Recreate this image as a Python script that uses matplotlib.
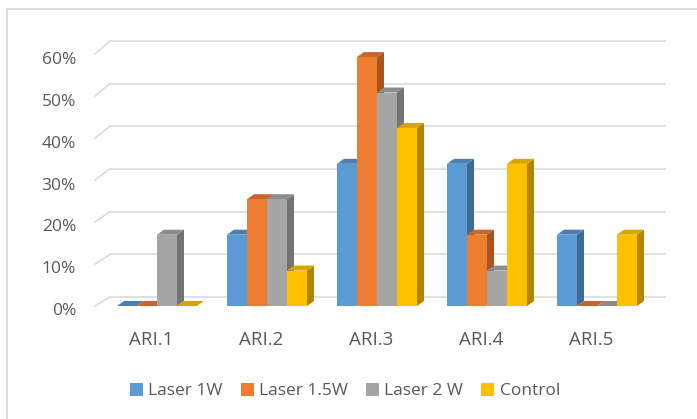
import matplotlib
matplotlib.use("Agg")
import matplotlib.pyplot as plt
from matplotlib.patches import Polygon, Rectangle
import numpy as np

categories = ["ARI.1", "ARI.2", "ARI.3", "ARI.4", "ARI.5"]
series_names = ["Laser 1W", "Laser 1.5W", "Laser 2 W", "Control"]
laser_1w = [0.0, 16.7, 33.3, 33.3, 16.7]
laser_15w = [0.0, 25.0, 58.3, 16.7, 0.0]
laser_2w = [16.7, 25.0, 50.0, 8.3, 0.0]
control = [0.0, 8.3, 41.7, 33.3, 16.7]
y_ticks = [0, 10, 20, 30, 40, 50, 60]
y_tick_labels = ["0%", "10%", "20%", "30%", "40%", "50%", "60%"]

series = [laser_1w, laser_15w, laser_2w, control]
front_cols = ["#5B9BD5", "#ED7D31", "#A5A5A5", "#FFC000"]
top_cols = ["#4A80B5", "#C9652A", "#8C8C8C", "#D9A300"]
side_cols = ["#3E6A94", "#A9541F", "#737373", "#B08600"]

plt.rcParams['font.family'] = ['Open Sans', 'DejaVu Sans']
W, H = 697, 419
fig = plt.figure(figsize=(W / 100, H / 100), dpi=100)
ax = fig.add_axes([0, 0, 1, 1])
ax.set_axis_off()

# pixel geometry mapping -> data
px_per_cat = 110.0
px_per_pct = 4.27
x0_px = 157.0
y0_px = 306.0
ax.set_xlim(-x0_px / px_per_cat, (W - x0_px) / px_per_cat)
ax.set_ylim((y0_px - H) / px_per_pct, y0_px / px_per_pct)

def dx(p):
    return p / px_per_cat

def dy(p):
    return p / px_per_pct

# border
fig.patches.append(Rectangle((6.5 / W, -0.1), 2.0, 1 - 9.5 / H + 0.1,
                             transform=fig.transFigure, fill=False,
                             edgecolor="#D9D9D9", lw=1.3))

grid_c = "#D9D9D9"
wall_dx, wall_dy = dx(15), dy(9)
gx0, gx1 = dx(110 - x0_px), dx(665 - x0_px)
front_scale = 4.2 / px_per_pct   # front-edge (perspective) scale relative to wall
label_scale = 4.183 / px_per_pct
for v, lab in zip(y_ticks, y_tick_labels):
    ax.plot([gx0 - wall_dx, gx0], [v * front_scale, v + wall_dy], color=grid_c, lw=1.1, zorder=1)
    ax.plot([gx0, gx1], [v + wall_dy, v + wall_dy], color=grid_c, lw=1.1, zorder=1)
    ax.text(dx(76 - x0_px), v * label_scale - dy(5), lab, ha="right", va="center",
            fontsize=12.5, color="#595959")

bw = dx(20)
ddx, ddy = dx(7), dy(5)
n = len(series)
z = 2
for i, cat in enumerate(categories):
    for j in range(n):
        v = series[j][i]
        xl = i + (j - n / 2) * bw
        xr = xl + bw
        side = Polygon([(xr, 0), (xr + ddx, ddy), (xr + ddx, v + ddy), (xr, v)],
                       closed=True, facecolor=side_cols[j], edgecolor="none", zorder=z)
        top = Polygon([(xl, v), (xl + ddx, v + ddy), (xr + ddx, v + ddy), (xr, v)],
                      closed=True, facecolor=top_cols[j], edgecolor="none", zorder=z + 0.1)
        front = Rectangle((xl, 0), bw, v, facecolor=front_cols[j], edgecolor="none",
                          zorder=z + 0.2)
        ax.add_patch(side)
        ax.add_patch(top)
        ax.add_patch(front)
        z += 1
    ax.text(i - dx(6), dy(y0_px - 340), cat, ha="center", va="center",
            fontsize=13.5, color="#595959")

handles = [Rectangle((0, 0), 1, 1, facecolor=c, edgecolor="none") for c in front_cols]
leg = fig.legend(handles, series_names, loc="center", ncol=4,
                 bbox_to_anchor=(345 / W, 1 - 391 / H), frameon=False,
                 fontsize=12.5, handlelength=0.75, handleheight=0.75,
                 handletextpad=0.3, columnspacing=1.05, labelcolor="#595959")

fig.savefig("out.png", dpi=100, facecolor="white")
